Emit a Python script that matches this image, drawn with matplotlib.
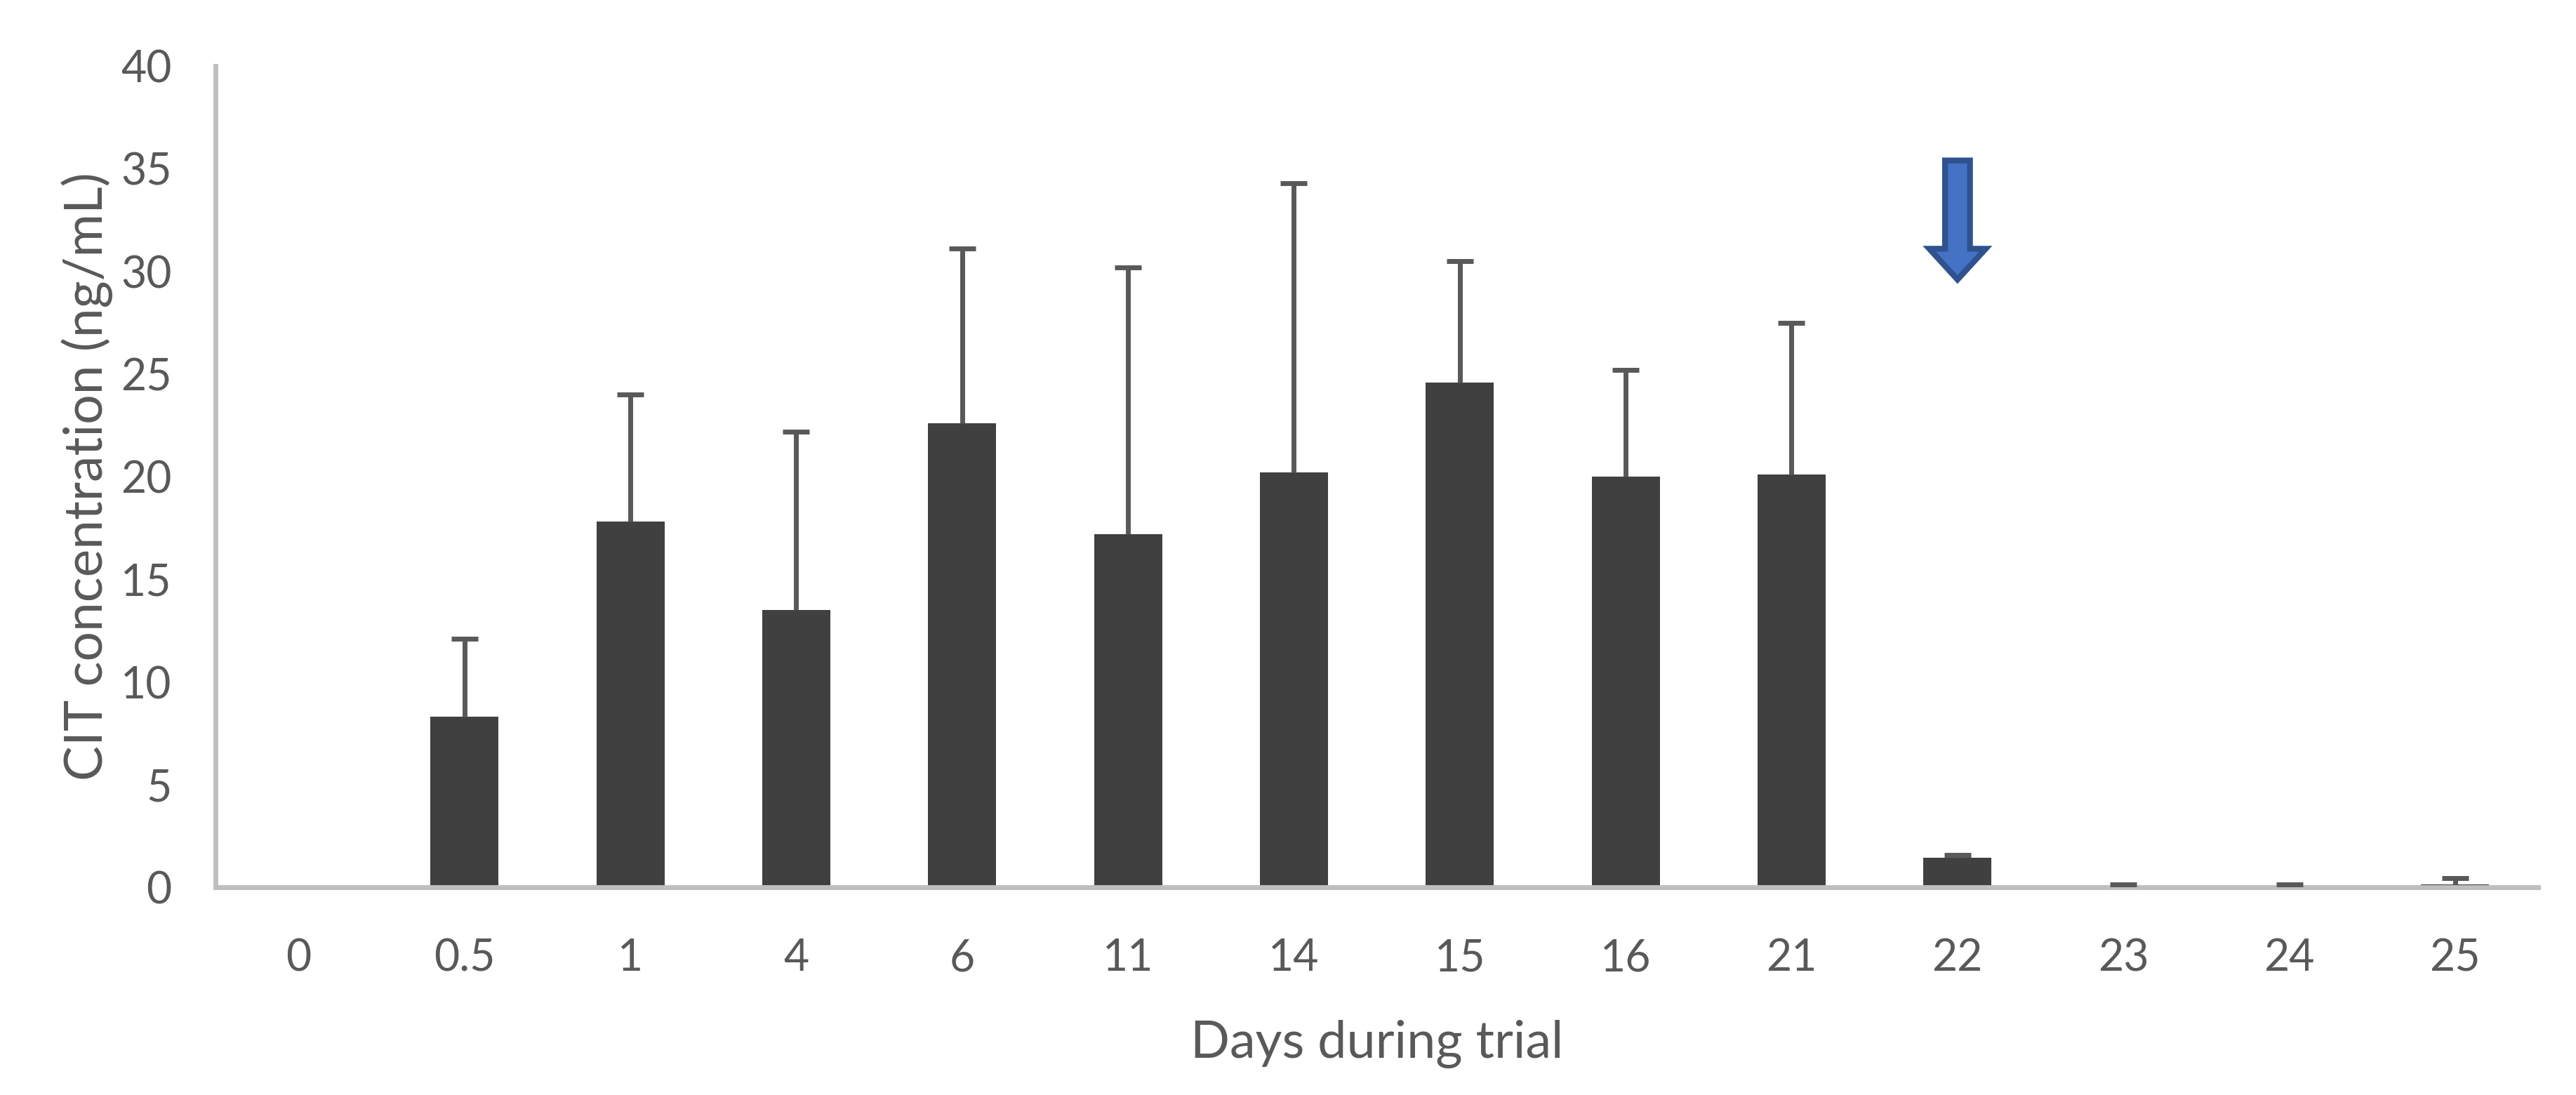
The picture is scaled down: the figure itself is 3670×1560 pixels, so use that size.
import numpy as np
import matplotlib
matplotlib.use('Agg')
import matplotlib.pyplot as plt
from matplotlib.patches import FancyArrow

plt.rcParams['font.family'] = ['Lato', 'DejaVu Sans']

days = ['0', '0.5', '1', '4', '6', '11', '14', '15', '16', '21', '22', '23', '24', '25']
cit_mean = [0, 8.3, 17.8, 13.5, 22.6, 17.2, 20.2, 24.6, 20.0, 20.1, 1.45, 0.04, 0.08, 0.15]
cit_err = [0, 3.8, 6.2, 8.7, 8.5, 13.0, 14.1, 5.9, 5.2, 7.4, 0.12, 0.1, 0.06, 0.3]

# arrow marks the end of exposure (day 22)
arrow_day = '22'
arrow_top, arrow_tip = 35.4, 29.6

x = np.arange(len(days))
mean = np.array(cit_mean)
err = np.array(cit_err)
top = mean + err
has = top > 0  # day 0 has nothing drawn

fig = plt.figure(figsize=(36.7, 15.6), dpi=100)
ax = fig.add_axes([0.0837, 0.1897, 0.9016, 0.75])

ax.bar(x, mean, width=0.41, color='#404040', zorder=2)
# plus-only error bars (Excel style): stem + cap on top
ax.vlines(x[has], mean[has], top[has], color='#595959', linewidth=5, zorder=3)
ax.plot(x[has], top[has], linestyle='none', marker='_', markersize=28,
        markeredgewidth=5, color='#595959', zorder=3)

xa = days.index(arrow_day)
ax.add_patch(FancyArrow(xa, arrow_top, 0, arrow_tip - arrow_top, width=0.15,
                        head_width=0.34, head_length=1.5, length_includes_head=True,
                        facecolor='#4472C4', edgecolor='#2F528F', linewidth=6, zorder=4))

ax.set_xlim(-0.5, len(days) - 0.5)
ax.set_ylim(0, 40)
ax.set_yticks(np.arange(0, 41, 5))
ax.set_xticks(x)
ax.set_xticklabels(days)

for s in ['top', 'right']:
    ax.spines[s].set_visible(False)
for s in ['left', 'bottom']:
    ax.spines[s].set_color('#BFBFBF')
    ax.spines[s].set_linewidth(5)

ax.tick_params(axis='both', length=0, labelsize=45, labelcolor='#595959')
ax.tick_params(axis='x', pad=52)
ax.tick_params(axis='y', pad=45)

ax.set_xlabel('Days during trial', fontsize=53, color='#595959', labelpad=42)
ax.set_ylabel('CIT concentration (ng/mL)', fontsize=54, color='#595959', labelpad=8)

fig.savefig('out.png', dpi=100, facecolor='white')
